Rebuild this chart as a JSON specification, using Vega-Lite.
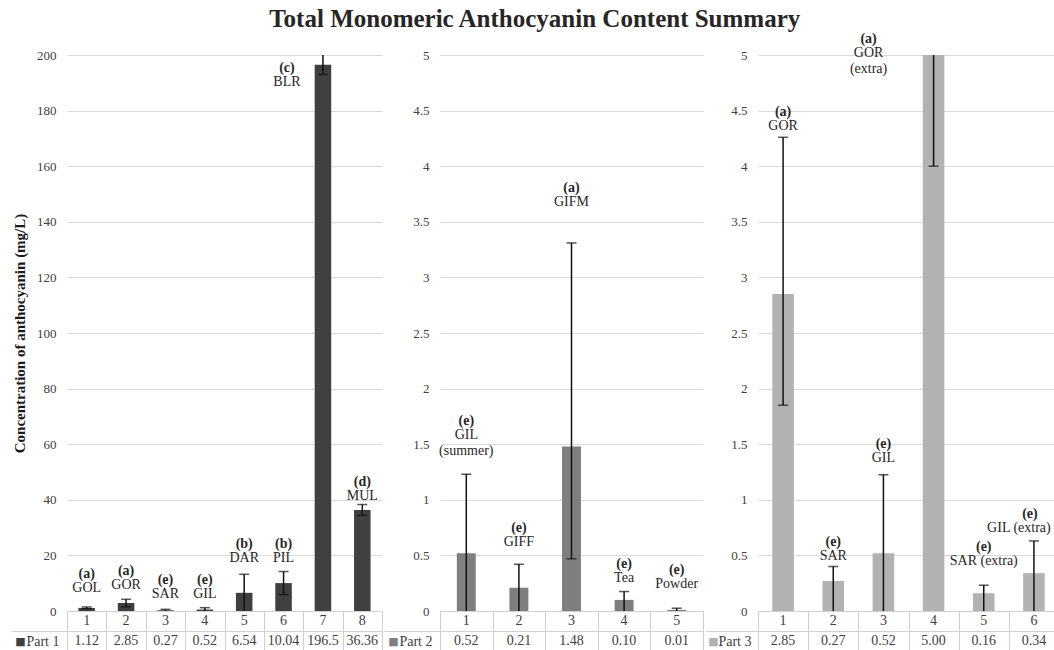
{
  "$schema": "https://vega.github.io/schema/vega-lite/v6.json",
  "background": "white",
  "padding": {"left": 10, "top": 7, "right": 0, "bottom": 0},
  "title": {"text": "Total Monomeric Anthocyanin Content Summary", "font": "Liberation Serif", "fontSize": 25, "fontWeight": "bold", "color": "#262626", "anchor": "middle", "offset": 0},
  "config": {
    "view": {"stroke": null},
    "font": "Liberation Serif",
    "text": {"font": "Liberation Serif"},
    "axis": {"labelFont": "Liberation Serif", "titleFont": "Liberation Serif", "gridColor": "#d9d9d9", "labelColor": "#404040", "labelFontSize": 13}
  },
  "datasets": {
    "p1": [
      {"cat": 1, "value": 1.12, "lo": 0.8, "hi": 1.45, "letter": "(a)", "name": "GOL", "ly": 13.3, "vtxt": "1.12", "shift": false},
      {"cat": 2, "value": 2.85, "lo": 1.5, "hi": 4.2, "letter": "(a)", "name": "GOR", "ly": 14.5, "vtxt": "2.85", "shift": false},
      {"cat": 3, "value": 0.27, "lo": 0, "hi": 0.6, "letter": "(e)", "name": "SAR", "ly": 11.2, "vtxt": "0.27", "shift": false},
      {"cat": 4, "value": 0.52, "lo": 0, "hi": 1.2, "letter": "(e)", "name": "GIL", "ly": 11.2, "vtxt": "0.52", "shift": false},
      {"cat": 5, "value": 6.54, "lo": 0, "hi": 13.2, "letter": "(b)", "name": "DAR", "ly": 24.1, "vtxt": "6.54", "shift": false},
      {"cat": 6, "value": 10.04, "lo": 5.9, "hi": 14.2, "letter": "(b)", "name": "PIL", "ly": 24.1, "vtxt": "10.04", "shift": false},
      {"cat": 7, "value": 196.5, "lo": 193, "hi": 202, "letter": "(c)", "name": "BLR", "ly": 195.5, "vtxt": "196.5", "shift": true},
      {"cat": 8, "value": 36.36, "lo": 34.4, "hi": 38.3, "letter": "(d)", "name": "MUL", "ly": 46.4, "vtxt": "36.36", "shift": false}
    ],
    "p2": [
      {"cat": 1, "value": 0.52, "lo": 0, "hi": 1.23, "letter": "(e)", "name": "GIL\n(summer)", "ly": 1.71, "vtxt": "0.52"},
      {"cat": 2, "value": 0.21, "lo": 0, "hi": 0.42, "letter": "(e)", "name": "GIFF", "ly": 0.75, "vtxt": "0.21"},
      {"cat": 3, "value": 1.48, "lo": 0.47, "hi": 3.31, "letter": "(a)", "name": "GIFM", "ly": 3.8, "vtxt": "1.48"},
      {"cat": 4, "value": 0.1, "lo": 0, "hi": 0.175, "letter": "(e)", "name": "Tea", "ly": 0.42, "vtxt": "0.10"},
      {"cat": 5, "value": 0.01, "lo": 0, "hi": 0.025, "letter": "(e)", "name": "Powder", "ly": 0.367, "vtxt": "0.01"}
    ],
    "p3": [
      {"cat": 1, "value": 2.85, "lo": 1.85, "hi": 4.26, "letter": "(a)", "name": "GOR", "ly": 4.49, "vtxt": "2.85", "shift": "none"},
      {"cat": 2, "value": 0.27, "lo": 0, "hi": 0.4, "letter": "(e)", "name": "SAR", "ly": 0.625, "vtxt": "0.27", "shift": "none"},
      {"cat": 3, "value": 0.52, "lo": 0, "hi": 1.226, "letter": "(e)", "name": "GIL", "ly": 1.5, "vtxt": "0.52", "shift": "none"},
      {"cat": 4, "value": 5.0, "lo": 4.0, "hi": 6.0, "letter": "(a)", "name": "GOR\n(extra)", "ly": 5.14, "vtxt": "5.00", "shift": "left"},
      {"cat": 5, "value": 0.16, "lo": 0, "hi": 0.232, "letter": "(e)", "name": "SAR (extra)", "ly": 0.574, "vtxt": "0.16", "shift": "none"},
      {"cat": 6, "value": 0.34, "lo": 0, "hi": 0.63, "letter": "(e)", "name": "GIL (extra)", "ly": 0.87, "vtxt": "0.34", "shift": "edge"}
    ]
  },
  "spacing": 0,
  "hconcat": [
    {
      "bounds": "flush",
      "spacing": 0,
      "vconcat": [
        {
          "width": 315, "height": 556,
          "data": {"name": "p1"},
          "encoding": {"x": {"field": "cat", "type": "ordinal", "axis": null, "scale": {"paddingInner": 0, "paddingOuter": 0}}},
          "layer": [
            {"mark": {"type": "bar", "color": "#404040", "width": {"band": 0.42}},
             "encoding": {"y": {"field": "value", "type": "quantitative", "scale": {"domain": [0, 200], "nice": false},
               "axis": {"values": [0,10,20,30,40,50,60,70,80,90,100,110,120,130,140,150,160,170,180,190,200], "domain": false, "ticks": false, "labelPadding": 11, "title": "Concentration of anthocyanin (mg/L)", "titleFontSize": 15, "titleFontWeight": "bold", "titleColor": "#1a1a1a", "titlePadding": 9}}}},
            {"mark": {"type": "rule", "color": "#111111", "strokeWidth": 1.5, "clip": true},
             "encoding": {"y": {"field": "lo", "type": "quantitative"}, "y2": {"field": "hi"}}},
            {"mark": {"type": "tick", "color": "#111111", "thickness": 1.5, "clip": true},
             "encoding": {"y": {"field": "hi", "type": "quantitative"}, "size": {"value": 10}}},
            {"transform": [{"filter": "datum.lo > 0"}],
             "mark": {"type": "tick", "color": "#111111", "thickness": 1.5, "clip": true},
             "encoding": {"y": {"field": "lo", "type": "quantitative"}, "size": {"value": 10}}},
            {"transform": [{"filter": "!datum.shift"}],
             "mark": {"type": "text", "fontSize": 14, "fontWeight": "bold", "color": "#262626", "baseline": "middle"},
             "encoding": {"y": {"field": "ly", "type": "quantitative"}, "text": {"field": "letter"}}},
            {"transform": [{"filter": "!datum.shift"}],
             "mark": {"type": "text", "fontSize": 14, "color": "#262626", "baseline": "top", "dy": 7, "lineBreak": "\n", "lineHeight": 16},
             "encoding": {"y": {"field": "ly", "type": "quantitative"}, "text": {"field": "name"}}},
            {"transform": [{"filter": "datum.shift"}],
             "mark": {"type": "text", "fontSize": 14, "fontWeight": "bold", "color": "#262626", "baseline": "middle", "dx": -36},
             "encoding": {"y": {"field": "ly", "type": "quantitative"}, "text": {"field": "letter"}}},
            {"transform": [{"filter": "datum.shift"}],
             "mark": {"type": "text", "fontSize": 14, "color": "#262626", "baseline": "top", "dy": 7, "dx": -36, "lineBreak": "\n", "lineHeight": 16},
             "encoding": {"y": {"field": "ly", "type": "quantitative"}, "text": {"field": "name"}}}
          ]
        },
        {
          "width": 315, "height": 40,
          "data": {"name": "p1"},
          "view": {"stroke": "#d0d0d0"},
          "encoding": {"x": {"field": "cat", "type": "ordinal", "scale": {"paddingInner": 0, "paddingOuter": 0},
            "axis": {"grid": true, "tickBand": "extent", "gridColor": "#d0d0d0", "labels": false, "ticks": false, "domain": false, "title": null}}},
          "layer": [
            {"mark": {"type": "text", "fontSize": 14, "color": "#404040", "baseline": "middle"},
             "encoding": {"text": {"field": "cat"},
               "y": {"datum": "num", "type": "nominal", "scale": {"domain": ["num", "val"], "paddingInner": 0, "paddingOuter": 0},
                 "axis": {"values": ["val"], "tickBand": "extent", "domain": false, "grid": true, "gridColor": "#d0d0d0", "ticks": true, "tickSize": 56, "tickColor": "#d0d0d0", "labelExpr": "datum.value == 'val' ? 'Part 1' : ''", "labelPadding": -48, "labelFontSize": 14, "labelColor": "#404040",
                   "title": "■", "titleAngle": 0, "titleX": -47, "titleY": 30, "titleAlign": "center", "titleBaseline": "middle", "titleColor": "#404040", "titleFont": "DejaVu Sans", "titleFontSize": 11, "titleFontWeight": "normal"}}}},
            {"mark": {"type": "text", "fontSize": 14, "color": "#404040", "baseline": "middle"},
             "encoding": {"text": {"field": "vtxt"}, "y": {"datum": "val", "type": "nominal"}}}
          ]
        }
      ]
    },
    {
      "bounds": "flush",
      "spacing": 0,
      "vconcat": [
        {
          "width": 263, "height": 556,
          "data": {"name": "p2"},
          "encoding": {"x": {"field": "cat", "type": "ordinal", "axis": null, "scale": {"paddingInner": 0, "paddingOuter": 0}}},
          "layer": [
            {"mark": {"type": "bar", "color": "#7f7f7f", "width": {"band": 0.36}},
             "encoding": {"y": {"field": "value", "type": "quantitative", "scale": {"domain": [0, 5], "nice": false},
               "axis": {"values": [0,0.5,1,1.5,2,2.5,3,3.5,4,4.5,5], "format": ".1~f", "domain": false, "ticks": false, "labelPadding": 11, "title": null}}}},
            {"mark": {"type": "rule", "color": "#111111", "strokeWidth": 1.5, "clip": true},
             "encoding": {"y": {"field": "lo", "type": "quantitative"}, "y2": {"field": "hi"}}},
            {"mark": {"type": "tick", "color": "#111111", "thickness": 1.5, "clip": true},
             "encoding": {"y": {"field": "hi", "type": "quantitative"}, "size": {"value": 10}}},
            {"transform": [{"filter": "datum.lo > 0"}],
             "mark": {"type": "tick", "color": "#111111", "thickness": 1.5, "clip": true},
             "encoding": {"y": {"field": "lo", "type": "quantitative"}, "size": {"value": 10}}},
            {"mark": {"type": "text", "fontSize": 14, "fontWeight": "bold", "color": "#262626", "baseline": "middle"},
             "encoding": {"y": {"field": "ly", "type": "quantitative"}, "text": {"field": "letter"}}},
            {"mark": {"type": "text", "fontSize": 14, "color": "#262626", "baseline": "top", "dy": 7, "lineBreak": "\n", "lineHeight": 16},
             "encoding": {"y": {"field": "ly", "type": "quantitative"}, "text": {"field": "name"}}}
          ]
        },
        {
          "width": 263, "height": 40,
          "data": {"name": "p2"},
          "view": {"stroke": "#d0d0d0"},
          "encoding": {"x": {"field": "cat", "type": "ordinal", "scale": {"paddingInner": 0, "paddingOuter": 0},
            "axis": {"grid": true, "tickBand": "extent", "gridColor": "#d0d0d0", "labels": false, "ticks": false, "domain": false, "title": null}}},
          "layer": [
            {"mark": {"type": "text", "fontSize": 14, "color": "#404040", "baseline": "middle"},
             "encoding": {"text": {"field": "cat"},
               "y": {"datum": "num", "type": "nominal", "scale": {"domain": ["num", "val"], "paddingInner": 0, "paddingOuter": 0},
                 "axis": {"values": ["val"], "tickBand": "extent", "domain": false, "grid": true, "gridColor": "#d0d0d0", "ticks": true, "tickSize": 56, "tickColor": "#d0d0d0", "labelExpr": "datum.value == 'val' ? 'Part 2' : ''", "labelPadding": -48, "labelFontSize": 14, "labelColor": "#404040",
                   "title": "■", "titleAngle": 0, "titleX": -47, "titleY": 30, "titleAlign": "center", "titleBaseline": "middle", "titleColor": "#7f7f7f", "titleFont": "DejaVu Sans", "titleFontSize": 11, "titleFontWeight": "normal"}}}},
            {"mark": {"type": "text", "fontSize": 14, "color": "#404040", "baseline": "middle"},
             "encoding": {"text": {"field": "vtxt"}, "y": {"datum": "val", "type": "nominal"}}}
          ]
        }
      ]
    },
    {
      "bounds": "flush",
      "spacing": 0,
      "vconcat": [
        {
          "width": 301, "height": 556,
          "data": {"name": "p3"},
          "encoding": {"x": {"field": "cat", "type": "ordinal", "axis": null, "scale": {"paddingInner": 0, "paddingOuter": 0}}},
          "layer": [
            {"mark": {"type": "bar", "color": "#b2b2b2", "width": {"band": 0.43}},
             "encoding": {"y": {"field": "value", "type": "quantitative", "scale": {"domain": [0, 5], "nice": false},
               "axis": {"values": [0,0.5,1,1.5,2,2.5,3,3.5,4,4.5,5], "format": ".1~f", "domain": false, "ticks": false, "labelPadding": 11, "title": null}}}},
            {"mark": {"type": "rule", "color": "#111111", "strokeWidth": 1.5, "clip": true},
             "encoding": {"y": {"field": "lo", "type": "quantitative"}, "y2": {"field": "hi"}}},
            {"mark": {"type": "tick", "color": "#111111", "thickness": 1.5, "clip": true},
             "encoding": {"y": {"field": "hi", "type": "quantitative"}, "size": {"value": 10}}},
            {"transform": [{"filter": "datum.lo > 0"}],
             "mark": {"type": "tick", "color": "#111111", "thickness": 1.5, "clip": true},
             "encoding": {"y": {"field": "lo", "type": "quantitative"}, "size": {"value": 10}}},
            {"transform": [{"filter": "datum.shift == 'none'"}],
             "mark": {"type": "text", "fontSize": 14, "fontWeight": "bold", "color": "#262626", "baseline": "middle"},
             "encoding": {"y": {"field": "ly", "type": "quantitative"}, "text": {"field": "letter"}}},
            {"transform": [{"filter": "datum.shift == 'none'"}],
             "mark": {"type": "text", "fontSize": 14, "color": "#262626", "baseline": "top", "dy": 7, "lineBreak": "\n", "lineHeight": 16},
             "encoding": {"y": {"field": "ly", "type": "quantitative"}, "text": {"field": "name"}}},
            {"transform": [{"filter": "datum.shift == 'left'"}],
             "mark": {"type": "text", "fontSize": 14, "fontWeight": "bold", "color": "#262626", "baseline": "middle", "dx": -65},
             "encoding": {"y": {"field": "ly", "type": "quantitative"}, "text": {"field": "letter"}}},
            {"transform": [{"filter": "datum.shift == 'left'"}],
             "mark": {"type": "text", "fontSize": 14, "color": "#262626", "baseline": "top", "dy": 7, "dx": -65, "lineBreak": "\n", "lineHeight": 16},
             "encoding": {"y": {"field": "ly", "type": "quantitative"}, "text": {"field": "name"}}},
            {"transform": [{"filter": "datum.shift == 'edge'"}],
             "mark": {"type": "text", "fontSize": 14, "fontWeight": "bold", "color": "#262626", "baseline": "middle", "dx": -4},
             "encoding": {"y": {"field": "ly", "type": "quantitative"}, "text": {"field": "letter"}}},
            {"transform": [{"filter": "datum.shift == 'edge'"}],
             "mark": {"type": "text", "fontSize": 14, "color": "#262626", "baseline": "top", "dy": 7, "dx": -15, "lineBreak": "\n", "lineHeight": 16},
             "encoding": {"y": {"field": "ly", "type": "quantitative"}, "text": {"field": "name"}}}
          ]
        },
        {
          "width": 301, "height": 40,
          "data": {"name": "p3"},
          "view": {"stroke": "#d0d0d0"},
          "encoding": {"x": {"field": "cat", "type": "ordinal", "scale": {"paddingInner": 0, "paddingOuter": 0},
            "axis": {"grid": true, "tickBand": "extent", "gridColor": "#d0d0d0", "labels": false, "ticks": false, "domain": false, "title": null}}},
          "layer": [
            {"mark": {"type": "text", "fontSize": 14, "color": "#404040", "baseline": "middle"},
             "encoding": {"text": {"field": "cat"},
               "y": {"datum": "num", "type": "nominal", "scale": {"domain": ["num", "val"], "paddingInner": 0, "paddingOuter": 0},
                 "axis": {"values": ["val"], "tickBand": "extent", "domain": false, "grid": true, "gridColor": "#d0d0d0", "ticks": true, "tickSize": 53, "tickColor": "#d0d0d0", "labelExpr": "datum.value == 'val' ? 'Part 3' : ''", "labelPadding": -46, "labelFontSize": 14, "labelColor": "#404040",
                   "title": "■", "titleAngle": 0, "titleX": -45, "titleY": 30, "titleAlign": "center", "titleBaseline": "middle", "titleColor": "#b2b2b2", "titleFont": "DejaVu Sans", "titleFontSize": 11, "titleFontWeight": "normal"}}}},
            {"mark": {"type": "text", "fontSize": 14, "color": "#404040", "baseline": "middle"},
             "encoding": {"text": {"field": "vtxt"}, "y": {"datum": "val", "type": "nominal"}}}
          ]
        }
      ]
    }
  ]
}
